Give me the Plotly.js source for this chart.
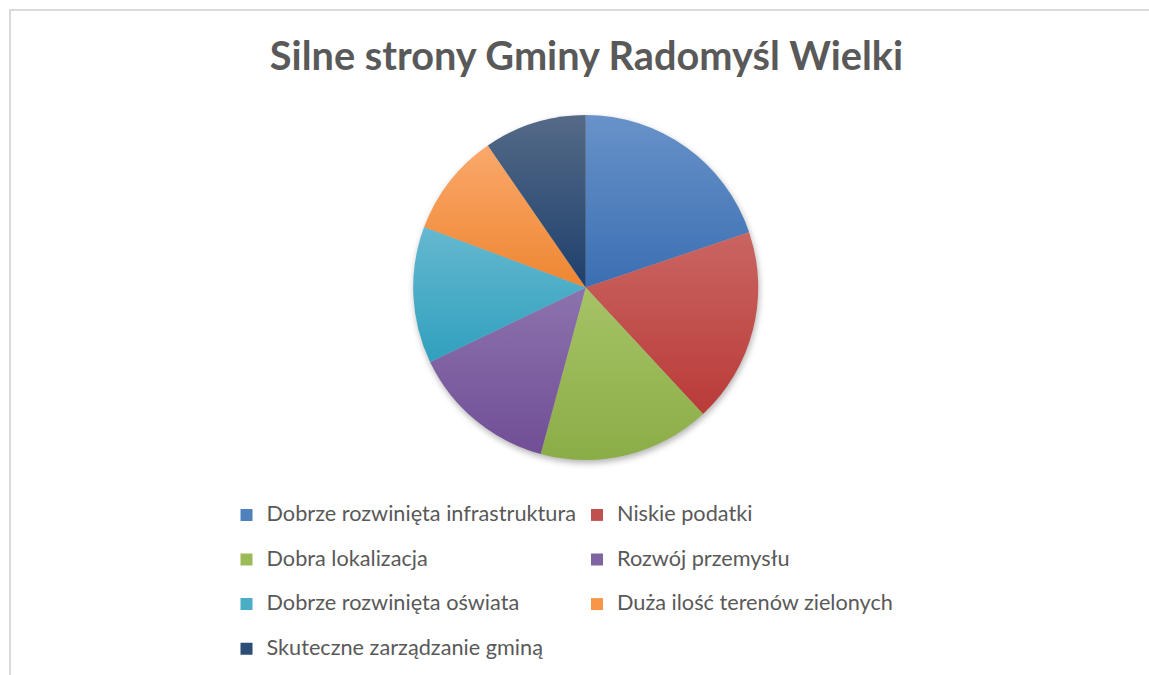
<!DOCTYPE html>
<html>
<head>
<meta charset="utf-8">
<script src="https://cdn.plot.ly/plotly-3.0.1.min.js"></script>
<style>
  html, body { margin: 0; padding: 0; background: #ffffff; }
  #wrap { position: relative; width: 1149px; height: 675px; overflow: hidden; }
  #chart { position: absolute; left: 0; top: 0; width: 1149px; height: 675px; }
  #frame { position: absolute; left: 9px; top: 9px; width: 1200px; height: 700px;
           border-left: 2px solid #d9d9d9; border-top: 2px solid #d9d9d9; pointer-events: none; }
  #chart .pielayer .trace { filter: drop-shadow(1px 3px 3px rgba(0,0,0,0.30)); }
</style>
</head>
<body>
<div id="wrap">
  <div id="chart"></div>
  <div id="frame"></div>
</div>
<script>
const chartTitle = "Silne strony Gminy Radomyśl Wielki";
const categories = [
  "Dobrze rozwinięta infrastruktura",
  "Niskie podatki",
  "Dobra lokalizacja",
  "Rozwój przemysłu",
  "Dobrze rozwinięta oświata",
  "Duża ilość terenów zielonych",
  "Skuteczne zarządzanie gminą"
];
const values = [19.8, 18.3, 16.1, 13.7, 12.8, 9.7, 9.6];
const colors = ["#4F81BD", "#C0504D", "#9BBB59", "#8064A2", "#4BACC6", "#F79646", "#2C4D75"];
const gradTop = ["#6892C9", "#CA6562", "#A6C366", "#8C73AD", "#65B8D0", "#FAA86B", "#546A87"];
const gradBottom = ["#3B6FB2", "#B93B38", "#8BAD47", "#714E96", "#30A0BE", "#EE8631", "#1E3F6C"];

const W = 1149, H = 675;
const marginR = 380;
const gw = W - marginR;
const cx = 585.7, cy = 287.5, R = 172.5;

const labels = categories.map(c => '<span style="font-size:21.7px">' + c + '</span><br>');

const trace = {
  type: 'pie',
  labels: labels,
  values: values,
  sort: false,
  direction: 'clockwise',
  rotation: 0,
  textinfo: 'none',
  hoverinfo: 'label+value',
  marker: { colors: colors, line: { width: 0 } },
  domain: { x: [(cx - R) / gw, (cx + R) / gw], y: [(H - cy - R) / H, (H - cy + R) / H] },
  showlegend: true
};

const layout = {
  width: W, height: H,
  margin: { l: 0, r: marginR, t: 0, b: 0, autoexpand: false },
  paper_bgcolor: '#ffffff',
  plot_bgcolor: '#ffffff',
  font: { family: 'Lato, "Open Sans", sans-serif', color: '#595959' },
  title: {
    text: '<b>' + chartTitle + '</b>',
    font: { family: 'Lato, "Open Sans", sans-serif', size: 39.7, color: '#595959' },
    xref: 'container', yref: 'container',
    x: 586.5 / W, xanchor: 'center',
    y: 1 - 56 / H, yanchor: 'middle'
  },
  legend: {
    orientation: 'h',
    x: 226.5 / gw, xanchor: 'left',
    y: (H - 498) / H, yanchor: 'top',
    font: { family: 'Lato, "Open Sans", sans-serif', size: 16, color: '#595959' },
    valign: 'top',
    entrywidth: 305.5, entrywidthmode: 'pixels',
    bgcolor: 'rgba(0,0,0,0)', borderwidth: 0,
    traceorder: 'normal'
  }
};

function applyGradients(gd) {
  const svg = gd.querySelector('svg.main-svg');
  if (!svg) return;
  let defs = svg.querySelector('defs');
  const ns = 'http://www.w3.org/2000/svg';
  if (!defs) { defs = document.createElementNS(ns, 'defs'); svg.insertBefore(defs, svg.firstChild); }
  colors.forEach((c, i) => {
    const id = 'sliceGrad' + i;
    if (!svg.querySelector('#' + id)) {
      const lg = document.createElementNS(ns, 'linearGradient');
      lg.setAttribute('id', id);
      lg.setAttribute('x1', '0'); lg.setAttribute('y1', '0');
      lg.setAttribute('x2', '0'); lg.setAttribute('y2', '1');
      const s1 = document.createElementNS(ns, 'stop');
      s1.setAttribute('offset', '0'); s1.setAttribute('stop-color', gradTop[i]);
      const s2 = document.createElementNS(ns, 'stop');
      s2.setAttribute('offset', '1'); s2.setAttribute('stop-color', gradBottom[i]);
      lg.appendChild(s1); lg.appendChild(s2);
      defs.appendChild(lg);
    }
  });
  gd.querySelectorAll('.pielayer g.slice path.surface').forEach((p, i) => {
    if (i < colors.length) p.style.fill = 'url(#sliceGrad' + i + ')';
  });
}

const gd = document.getElementById('chart');
Plotly.newPlot(gd, [trace], layout, { displayModeBar: false, staticPlot: true }).then(() => {
  applyGradients(gd);
  gd.on && gd.on('plotly_afterplot', () => applyGradients(gd));
});
</script>
</body>
</html>
